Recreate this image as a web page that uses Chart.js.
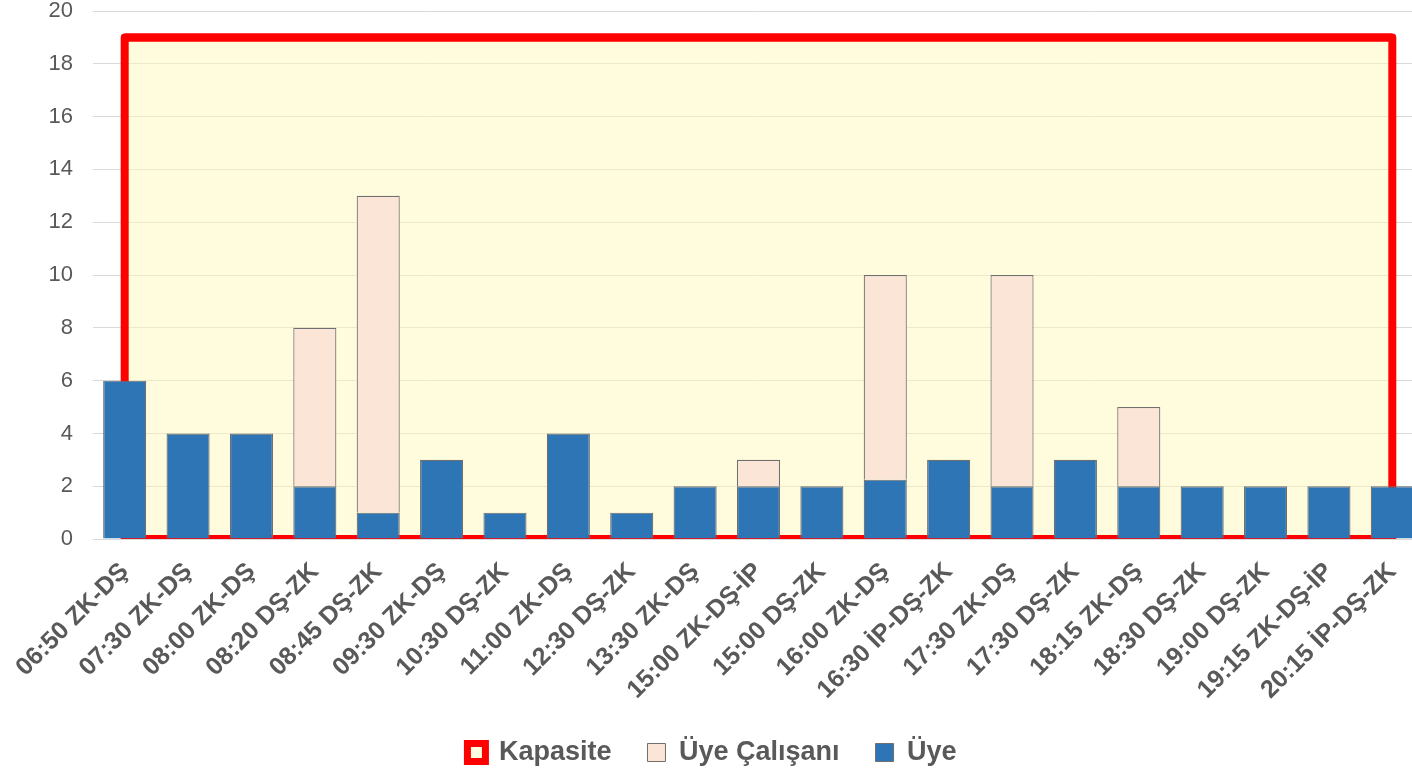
<!DOCTYPE html>
<html>
<head>
<meta charset="utf-8">
<script src="https://cdn.jsdelivr.net/npm/chart.js@4/dist/chart.umd.min.js"></script>
<style>
  html, body { margin: 0; padding: 0; background: #ffffff; overflow: hidden; width: 1412px; height: 776px; }
  #wrap { width: 1424px; height: 776px; }
</style>
</head>
<body>
<div id="wrap"><canvas id="c" width="1424" height="776"></canvas></div>
<script>
const categories = [
  "06:50 ZK-DŞ", "07:30 ZK-DŞ", "08:00 ZK-DŞ", "08:20 DŞ-ZK", "08:45 DŞ-ZK",
  "09:30 ZK-DŞ", "10:30 DŞ-ZK", "11:00 ZK-DŞ", "12:30 DŞ-ZK", "13:30 ZK-DŞ",
  "15:00 ZK-DŞ-İP", "15:00 DŞ-ZK", "16:00 ZK-DŞ", "16:30 İP-DŞ-ZK", "17:30 ZK-DŞ",
  "17:30 DŞ-ZK", "18:15 ZK-DŞ", "18:30 DŞ-ZK", "19:00 DŞ-ZK", "19:15 ZK-DŞ-İP",
  "20:15 İP-DŞ-ZK"
];
const uyeValues =     [6, 4, 4, 2, 1, 3, 1, 4, 1, 2, 2, 2, 2.25, 3, 2, 3, 2, 2, 2, 2, 2];
const calisanValues = [0, 0, 0, 6, 12, 0, 0, 0, 0, 0, 1, 0, 7.75, 0, 8, 0, 3, 0, 0, 0, 0];
const kapasiteValues = [19, 19, 19, 19, 19, 19, 19, 19, 19, 19, 19, 19, 19, 19, 19, 19, 19, 19, 19, 19, 19];
const yMin = 0, yMax = 20, yStep = 2;

const FONT = "'Liberation Sans', Arial, sans-serif";
const TEXT = "#595959";
const RED = "#FF0000";

const capBox = {
  id: 'capBox',
  afterDatasetDraw(chart, args) {
    const ds = chart.data.datasets[args.index];
    if (ds.label !== 'Kapasite') return;
    const pts = args.meta.data;
    if (!pts.length) return;
    const first = pts[0], last = pts[pts.length - 1];
    const y0 = chart.scales.y.getPixelForValue(0);
    const a = chart.chartArea;
    const ctx = chart.ctx;
    ctx.save();
    ctx.beginPath();
    ctx.rect(a.left, a.top - 10, a.right - a.left, a.bottom - a.top + 10);
    ctx.clip();
    ctx.beginPath();
    ctx.moveTo(first.x, y0);
    ctx.lineTo(first.x, first.y);
    ctx.lineTo(last.x, last.y);
    ctx.lineTo(last.x, y0);
    ctx.closePath();
    ctx.lineWidth = 8;
    ctx.lineJoin = 'round';
    ctx.strokeStyle = RED;
    ctx.stroke();
    ctx.restore();
  }
};

new Chart(document.getElementById('c'), {
  data: {
    labels: categories,
    datasets: [
      {
        type: 'bar', label: 'Üye', data: uyeValues,
        backgroundColor: '#2E75B6', borderColor: '#6f6f6f', borderWidth: 1.2,
        stack: 'people', order: 0,
        barPercentage: 0.68, categoryPercentage: 1
      },
      {
        type: 'bar', label: 'Üye Çalışanı', data: calisanValues,
        backgroundColor: '#FBE5D6', borderColor: '#6f6f6f', borderWidth: 1.2,
        stack: 'people', order: 0,
        barPercentage: 0.68, categoryPercentage: 1
      },
      {
        type: 'line', label: 'Kapasite', data: kapasiteValues,
        borderColor: RED, borderWidth: 8,
        backgroundColor: 'rgba(255,250,190,0.5)',
        fill: 'origin', pointRadius: 0, tension: 0,
        stack: 'cap', order: 10
      }
    ]
  },
  options: {
    responsive: false,
    animation: false,
    layout: { padding: { top: 11, left: 0, right: 0, bottom: 0 } },
    scales: {
      x: {
        stacked: true,
        offset: true,
        grid: { display: false },
        border: { display: false },
        afterFit(scale) { scale.height -= 12; },
        ticks: {
          autoSkip: false, maxRotation: 45, minRotation: 45,
          color: TEXT, padding: 10,
          font: { family: FONT, size: 25, weight: 'bold' }
        }
      },
      y: {
        stacked: true,
        min: yMin, max: yMax,
        grid: { color: '#D9D9D9', lineWidth: 1, drawTicks: false },
        border: { display: false },
        afterFit(scale) { scale.width = 93; scale.paddingTop = 0; scale.paddingBottom = 0; },
        ticks: {
          stepSize: yStep, color: TEXT, padding: 20,
          font: { family: FONT, size: 22 }
        }
      }
    },
    plugins: {
      tooltip: { enabled: false },
      legend: {
        position: 'bottom',
        reverse: true,
        labels: {
          color: TEXT,
          font: { family: FONT, size: 27, weight: 'bold' },
          boxWidth: 18, boxHeight: 18, padding: 36,
          generateLabels(chart) {
            const items = Chart.defaults.plugins.legend.labels.generateLabels(chart);
            items.forEach(it => {
              if (it.text === 'Kapasite') {
                it.fillStyle = '#FFFDE0';
                it.strokeStyle = RED;
                it.lineWidth = 7;
              } else {
                it.lineWidth = 1;
              }
            });
            return items;
          }
        }
      }
    }
  },
  plugins: [capBox]
});
</script>
</body>
</html>
